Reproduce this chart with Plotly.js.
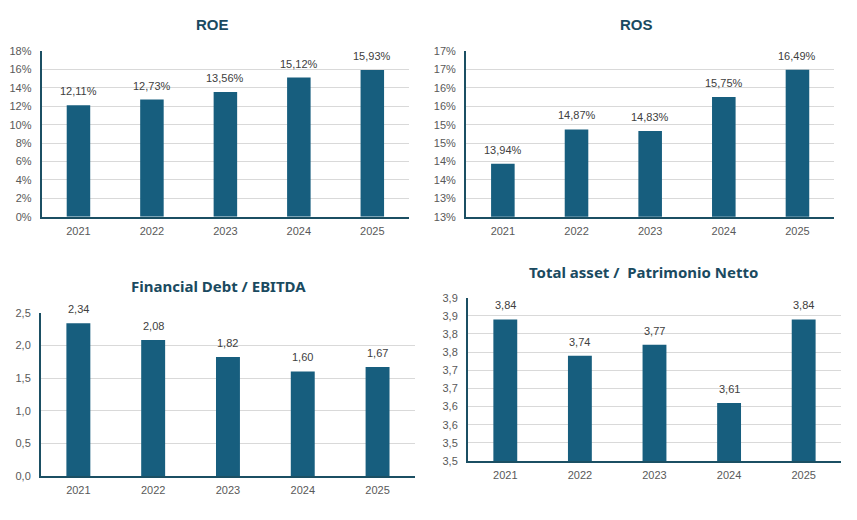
<!DOCTYPE html>
<html>
<head>
<meta charset="utf-8">
<script src="https://cdn.plot.ly/plotly-3.0.1.min.js"></script>
<style>
  html, body { margin: 0; padding: 0; background: #fff; }
  #chart { width: 857px; height: 520px; }
</style>
</head>
<body>
<div id="chart"></div>
<script>
const years = ['2021', '2022', '2023', '2024', '2025'];

const roe = [0.1211, 0.1273, 0.1356, 0.1512, 0.1593];
const ros = [0.1394, 0.1487, 0.1483, 0.1575, 0.1649];
const debtEbitda = [2.34, 2.08, 1.82, 1.60, 1.67];
const assetEquity = [3.84, 3.74, 3.77, 3.61, 3.84];

const roeTicks = [0, 0.02, 0.04, 0.06, 0.08, 0.10, 0.12, 0.14, 0.16, 0.18];
const roeTickText = ['0%', '2%', '4%', '6%', '8%', '10%', '12%', '14%', '16%', '18%'];
const rosTicks = [0.125, 0.13, 0.135, 0.14, 0.145, 0.15, 0.155, 0.16, 0.165, 0.17];
const rosTickText = ['13%', '13%', '14%', '14%', '15%', '15%', '16%', '16%', '17%', '17%'];
const debtTicks = [0, 0.5, 1.0, 1.5, 2.0, 2.5];
const debtTickText = ['0,0', '0,5', '1,0', '1,5', '2,0', '2,5'];
const assetTicks = [3.45, 3.50, 3.55, 3.60, 3.65, 3.70, 3.75, 3.80, 3.85, 3.90];
const assetTickText = ['3,5', '3,5', '3,6', '3,6', '3,7', '3,7', '3,8', '3,8', '3,9', '3,9'];

const barColor = '#175e7e';
const lineColor = '#1b4f63';
const titleColor = '#1a4a60';

function bars(y, xa, ya) {
    return {
        type: 'bar',
        x: years,
        y: y,
        xaxis: xa,
        yaxis: ya,
        marker: {color: barColor},
        hoverinfo: 'skip'
    };
}

const data = [
    bars(roe, 'x', 'y'),
    bars(ros, 'x2', 'y2'),
    bars(debtEbitda, 'x3', 'y3'),
    bars(assetEquity, 'x4', 'y4')
];

// value labels above bars, placed through the axes (category index on x)
function pct(v) { return (v * 100).toFixed(2).replace('.', ',') + '%'; }
function num(v) { return v.toFixed(2).replace('.', ','); }

function labels(vals, xa, ya, fmt) {
    return vals.map((v, i) => ({
        x: i, y: v, xref: xa, yref: ya,
        text: fmt(v),
        showarrow: false,
        yanchor: 'bottom',
        yshift: 6,
        font: {family: 'Liberation Sans, Arial', size: 11, color: '#404040'}
    }));
}

const tickFont = {family: 'Liberation Sans, Arial', size: 11, color: '#595959'};

function xAxis(domain, anchor) {
    return {
        domain: domain,
        anchor: anchor,
        type: 'category',
        categoryarray: years,
        range: [-0.5, 4.5],
        showline: true,
        linecolor: lineColor,
        linewidth: 2,
        showgrid: false,
        ticks: '',
        ticklabelstandoff: 3,
        tickfont: tickFont,
        fixedrange: true
    };
}

function yAxis(domain, anchor, range, vals, text) {
    return {
        domain: domain,
        anchor: anchor,
        range: range,
        tickmode: 'array',
        tickvals: vals,
        ticktext: text,
        showline: true,
        linecolor: lineColor,
        linewidth: 2,
        showgrid: true,
        gridcolor: '#d9d9d9',
        gridwidth: 1,
        zeroline: false,
        ticks: '',
        ticklabelstandoff: 6,
        tickfont: tickFont,
        fixedrange: true
    };
}

function title(text, x, y, family) {
    return {
        text: '<b>' + text + '</b>',
        x: x, y: y,
        xref: 'paper', yref: 'paper',
        xanchor: 'center', yanchor: 'middle',
        showarrow: false,
        font: {family: family, size: 15, color: titleColor}
    };
}

const layout = {
    width: 857,
    height: 520,
    margin: {l: 0, r: 0, t: 0, b: 0},
    paper_bgcolor: '#ffffff',
    plot_bgcolor: '#ffffff',
    showlegend: false,
    bargap: 0.68,
    xaxis: xAxis([0.0487, 0.4773], 'y'),
    yaxis: yAxis([0.5833, 0.9019], 'x', [0, 0.18], roeTicks, roeTickText),
    xaxis2: xAxis([0.5438, 0.9735], 'y2'),
    yaxis2: yAxis([0.5833, 0.9019], 'x2', [0.125, 0.17], rosTicks, rosTickText),
    xaxis3: xAxis([0.0478, 0.4842], 'y3'),
    yaxis3: yAxis([0.0846, 0.3987], 'x3', [0, 2.5], debtTicks, debtTickText),
    xaxis4: xAxis([0.5461, 0.9813], 'y4'),
    yaxis4: yAxis([0.1135, 0.4275], 'x4', [3.45, 3.9], assetTicks, assetTickText),
    annotations: [
        title('ROE', 212 / 857, 1 - 24 / 520, 'Liberation Sans, Arial'),
        title('ROS', 636 / 857, 1 - 24 / 520, 'Liberation Sans, Arial'),
        title('Financial Debt / EBITDA', 218 / 857, 1 - 286 / 520, 'Noto Sans'),
        title('Total asset /  Patrimonio Netto', 643 / 857, 1 - 272 / 520, 'Noto Sans')
    ].concat(
        labels(roe, 'x', 'y', pct),
        labels(ros, 'x2', 'y2', pct),
        labels(debtEbitda, 'x3', 'y3', num),
        labels(assetEquity, 'x4', 'y4', num)
    )
};

Plotly.newPlot('chart', data, layout, {displayModeBar: false, staticPlot: true});
</script>
</body>
</html>
